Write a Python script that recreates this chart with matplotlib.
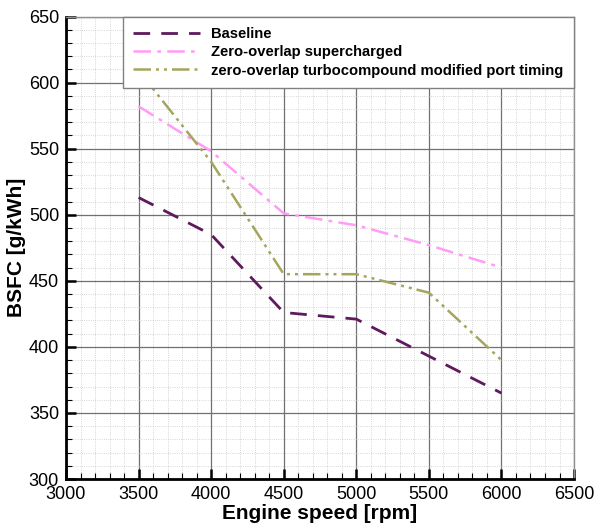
import numpy as np
import matplotlib
matplotlib.use("Agg")
import matplotlib.pyplot as plt
from matplotlib.ticker import MultipleLocator

plt.rcParams['font.family'] = ['Liberation Sans', 'DejaVu Sans']

# data
speed = [3500, 4000, 4500, 5000, 5500, 6000]
bsfc_baseline = [513, 485, 426, 421, 393, 365]
bsfc_supercharged = [582, 548, 501, 492, 477, 460]
bsfc_turbocompound = [609, 540, 455, 455, 441, 390]

labels = ["Baseline",
          "Zero-overlap supercharged",
          "zero-overlap turbocompound modified port timing"]

fig = plt.figure(figsize=(5.97, 5.29), dpi=100)
ax = fig.add_axes([0.1106, 0.0945, 0.8509, 0.8743])

ax.plot(speed, bsfc_baseline, color="#5e1a5c", lw=2.0, dashes=(6, 4), label=labels[0])
ax.plot(speed, bsfc_supercharged, color="#ff9cf5", lw=1.8, dashes=(7, 2.5, 1.5, 2.5), label=labels[1])
ax.plot(speed, bsfc_turbocompound, color="#a5a55e", lw=1.8,
        dashes=(7, 2, 1.2, 2, 1.2, 2), label=labels[2])

ax.set_xlim(3000, 6500)
ax.set_ylim(300, 650)
ax.xaxis.set_major_locator(MultipleLocator(500))
ax.xaxis.set_minor_locator(MultipleLocator(100))
ax.yaxis.set_major_locator(MultipleLocator(50))
ax.yaxis.set_minor_locator(MultipleLocator(10))

ax.grid(which="major", color="#707070", lw=0.9, ls="-")
ax.grid(which="minor", color="#c8c8c8", lw=0.6, ls=":")
ax.set_axisbelow(True)

ax.tick_params(which="major", direction="in", length=7, width=1.8, labelsize=13,
               top=False, right=False, pad=5)
ax.tick_params(which="minor", direction="in", length=4, width=0.8, top=False, right=False)

for side in ("left", "bottom"):
    ax.spines[side].set_linewidth(2.0)
    ax.spines[side].set_color("black")
for side in ("top", "right"):
    ax.spines[side].set_linewidth(1.0)
    ax.spines[side].set_color("#909090")

ax.set_xlabel("Engine speed [rpm]", fontsize=15, fontweight="bold", labelpad=1)
ax.set_ylabel("BSFC [g/kWh]", fontsize=15, fontweight="bold", labelpad=2)

leg = ax.legend(loc="upper right", bbox_to_anchor=(1.0, 1.0), borderaxespad=0,
                prop={"weight": "bold", "size": 10.6}, fancybox=False, framealpha=1,
                edgecolor="#808080", handlelength=4.5, labelspacing=0.3,
                borderpad=0.7, handletextpad=0.8)
leg.get_frame().set_linewidth(1.0)
leg.set_zorder(5)

fig.savefig("out.png", dpi=100)
